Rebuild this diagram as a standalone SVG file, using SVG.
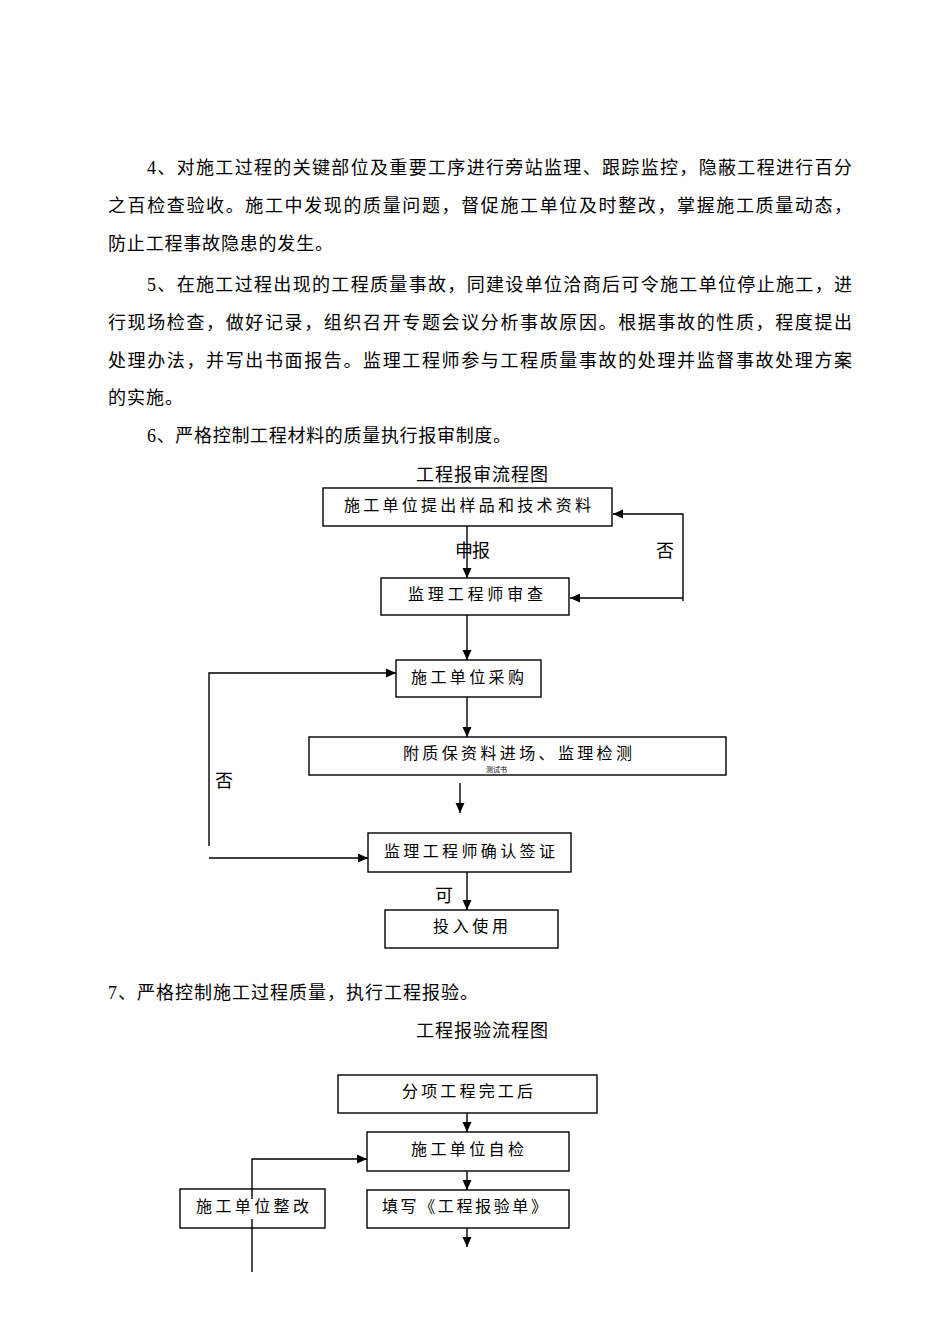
<svg xmlns="http://www.w3.org/2000/svg" width="950" height="1344" viewBox="0 0 950 1344">
<style>
text{font-family:"Liberation Serif","Noto Sans CJK SC",serif;fill:#000;}
.p{font-size:18px;}
.b{font-size:16px;}
.box{fill:none;stroke:#000;stroke-width:1.4;}
.c{fill:none;stroke:#000;stroke-width:1.4;}
.a{marker-end:url(#ah);}
</style>
<defs>
<marker id="ah" markerUnits="userSpaceOnUse" markerWidth="10" markerHeight="10" refX="10" refY="5" orient="auto">
<path d="M0,0.5 L10,5 L0,9.5 z" fill="#000"/>
</marker>
</defs>
<rect width="950" height="1344" fill="#fff"/>

<g id="paragraphs">
<text class="p" x="147" y="174" textLength="705" lengthAdjust="spacing">4、对施工过程的关键部位及重要工序进行旁站监理、跟踪监控，隐蔽工程进行百分</text>
<text class="p" x="108" y="212" textLength="744" lengthAdjust="spacing">之百检查验收。施工中发现的质量问题，督促施工单位及时整改，掌握施工质量动态，</text>
<text class="p" x="108" y="250" textLength="225" lengthAdjust="spacing">防止工程事故隐患的发生。</text>
<text class="p" x="147" y="291" textLength="705" lengthAdjust="spacing">5、在施工过程出现的工程质量事故，同建设单位洽商后可令施工单位停止施工，进</text>
<text class="p" x="108" y="329" textLength="744" lengthAdjust="spacing">行现场检查，做好记录，组织召开专题会议分析事故原因。根据事故的性质，程度提出</text>
<text class="p" x="108" y="367" textLength="744" lengthAdjust="spacing">处理办法，并写出书面报告。监理工程师参与工程质量事故的处理并监督事故处理方案</text>
<text class="p" x="108" y="404" textLength="75" lengthAdjust="spacing">的实施。</text>
<text class="p" x="147" y="442" textLength="364" lengthAdjust="spacing">6、严格控制工程材料的质量执行报审制度。</text>
<text class="p" x="416" y="481" textLength="132" lengthAdjust="spacing">工程报审流程图</text>
<text class="p" x="108" y="999" textLength="370" lengthAdjust="spacing">7、严格控制施工过程质量，执行工程报验。</text>
<text class="p" x="416" y="1037" textLength="132" lengthAdjust="spacing">工程报验流程图</text>
</g>

<g id="connectors">
<path class="c a" d="M467,526 V578"/>
<path class="c a" d="M683,601 V514 H613"/>
<path class="c a" d="M683,598 H570"/>
<path class="c a" d="M467,615 V660"/>
<path class="c a" d="M467,697 V737"/>
<path class="c a" d="M460,783 V813"/>
<path class="c a" d="M209,846 V673 H396"/>
<path class="c a" d="M209,858 H368"/>
<path class="c a" d="M467,872 V910"/>
<path class="c a" d="M467,1113 V1132"/>
<path class="c a" d="M467,1171 V1190"/>
<path class="c a" d="M467,1228 V1247"/>
<path class="c a" d="M252,1199 V1159 H367"/>
<path class="c" d="M252,1219 V1272"/>
<text class="p" x="455" y="557" font-size="17" textLength="35" lengthAdjust="spacing">申报</text>
<text class="p" x="656" y="557" font-size="17">否</text>
<text class="p" x="215" y="787" font-size="17">否</text>
<text class="p" x="435" y="902" font-size="17">可</text>
</g>

<g id="n1">
<rect class="box" x="323" y="488" width="289" height="38"/>
<text class="b" x="344" y="511" textLength="247" lengthAdjust="spacing">施工单位提出样品和技术资料</text>
</g>
<g id="n2">
<rect class="box" x="381" y="578" width="188" height="37"/>
<text class="b" x="408" y="600" textLength="135" lengthAdjust="spacing">监理工程师审查</text>
</g>
<g id="n3">
<rect class="box" x="396" y="660" width="145" height="37"/>
<text class="b" x="411" y="683" textLength="113" lengthAdjust="spacing">施工单位采购</text>
</g>
<g id="n4">
<rect class="box" x="309" y="737" width="417" height="38"/>
<text class="b" x="403" y="759" textLength="229" lengthAdjust="spacing">附质保资料进场、监理检测</text>
<text x="486" y="772" font-size="7">测试书</text>
</g>
<g id="n5">
<rect class="box" x="368" y="833" width="203" height="39"/>
<text class="b" x="384" y="857" textLength="171" lengthAdjust="spacing">监理工程师确认签证</text>
</g>
<g id="n6">
<rect class="box" x="385" y="910" width="173" height="38"/>
<text class="b" x="433" y="932" textLength="75" lengthAdjust="spacing">投入使用</text>
</g>

<g id="m1">
<rect class="box" x="338" y="1075" width="259" height="38"/>
<text class="b" x="402" y="1097" textLength="131" lengthAdjust="spacing">分项工程完工后</text>
</g>
<g id="m2">
<rect class="box" x="367" y="1132" width="202" height="39"/>
<text class="b" x="411" y="1155" textLength="113" lengthAdjust="spacing">施工单位自检</text>
</g>
<g id="m3">
<rect class="box" x="367" y="1190" width="202" height="38"/>
<text class="b" x="382" y="1212" textLength="165" lengthAdjust="spacing">填写《工程报验单》</text>
</g>
<g id="m4">
<rect class="box" x="180" y="1189" width="145" height="39"/>
<text class="b" x="196" y="1212" textLength="113" lengthAdjust="spacing">施工单位整改</text>
</g>
</svg>
